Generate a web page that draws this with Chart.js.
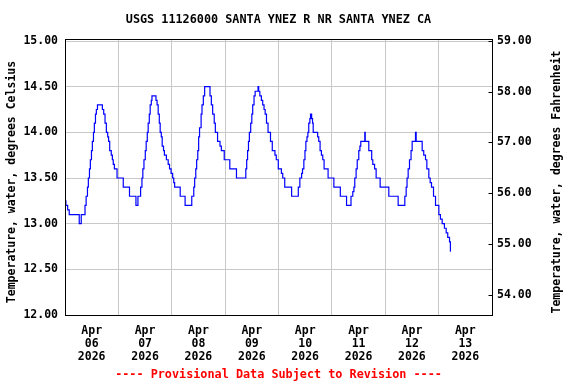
<!DOCTYPE html>
<html>
<head>
<meta charset="utf-8">
<script src="https://cdn.jsdelivr.net/npm/chart.js@4.4.1/dist/chart.umd.min.js"></script>
<style>
  html, body { margin: 0; padding: 0; background: #fff; }
</style>
</head>
<body>
<canvas id="tempChart" width="576" height="384"></canvas>
<script>
const chartTitle = "USGS 11126000 SANTA YNEZ R NR SANTA YNEZ CA";
const leftAxisTitle = "Temperature, water, degrees Celsius";
const rightAxisTitle = "Temperature, water, degrees Fahrenheit";
const footerText = "---- Provisional Data Subject to Revision ----";

// hours since Apr 06 2026 00:00 where the reading changes
const hours = [
  0, 0.4, 1.2, 1.9, 6.4, 7.3, 9.0, 9.5, 10.1, 10.5, 11.0, 11.4, 11.9, 12.3, 12.8, 13.2, 13.7, 14.1, 14.6,
  16.8, 17.4, 18.0, 18.6, 19.2, 19.6, 20.1, 20.8, 21.3, 21.7, 22.2, 23.4, 26.2, 29.0, 31.9, 32.8,
  34.0, 34.6, 35.0, 35.5, 36.1, 36.5, 37.0, 37.4, 37.9, 38.3, 38.8, 39.1,
  40.9, 41.4, 41.9, 42.4, 42.8, 43.3, 43.7, 44.3, 44.7, 45.6, 46.4, 47.0, 47.7, 48.4, 48.9, 49.3, 51.8, 54.0,
  57.0, 57.9, 58.3, 58.8, 59.2, 59.7, 60.1, 60.5, 61.2, 61.6, 62.2, 62.8,
  65.2, 65.8, 66.4, 67.1, 67.6, 68.6, 69.7, 70.3, 71.6, 74.1, 77.1,
  81.3, 81.7, 82.1, 82.5, 82.9, 83.5, 84.0, 84.4, 85.0, 85.5, 86.8,
  87.1, 87.6, 88.3, 88.9, 89.5, 90.0, 90.6, 91.3, 92.4, 93.2, 94.4, 95.0, 95.9, 97.3, 97.9, 98.8, 101.9,
  104.9, 105.6, 106.4, 106.8, 107.4, 107.9, 108.3, 108.8, 109.2, 109.6, 110.1, 110.4,
  110.9, 111.3, 111.6, 113.6, 114.1, 114.7, 115.3, 115.9, 116.5, 118.3, 120.9, 123.8, 126.6,
  128.6, 129.4, 129.9, 130.3, 130.9, 131.4, 132.1, 132.6, 133.0, 134.8, 135.0,
  136.6, 137.9, 138.4, 139.2, 139.9, 141.7, 145.6, 149.8,
  152.8, 153.4, 153.8, 154.3, 154.9, 155.6, 156.1, 157.6, 157.9,
  160.6, 161.3, 162.1, 162.7, 163.6, 164.2, 164.8, 165.7, 166.6, 168.1, 168.8, 169.6, 170.6,
  171.4, 172.1, 172.9, 173.3, 173.5
];
// water temperature, degrees Celsius
const tempC = [
  13.25, 13.2, 13.15, 13.1, 13.0, 13.1, 13.2, 13.3, 13.4, 13.5, 13.6, 13.7, 13.8, 13.9, 14.0, 14.1, 14.2, 14.25, 14.3,
  14.25, 14.2, 14.1, 14.0, 13.95, 13.9, 13.8, 13.75, 13.7, 13.65, 13.6, 13.5, 13.4, 13.3, 13.2, 13.3,
  13.4, 13.5, 13.6, 13.7, 13.8, 13.9, 14.0, 14.1, 14.2, 14.3, 14.35, 14.4,
  14.35, 14.3, 14.2, 14.1, 14.0, 13.95, 13.85, 13.8, 13.75, 13.7, 13.65, 13.6, 13.55, 13.5, 13.45, 13.4, 13.3, 13.2,
  13.3, 13.4, 13.5, 13.6, 13.7, 13.8, 13.95, 14.05, 14.2, 14.3, 14.4, 14.5,
  14.4, 14.3, 14.2, 14.1, 14.0, 13.9, 13.85, 13.8, 13.7, 13.6, 13.5,
  13.6, 13.7, 13.8, 13.9, 14.0, 14.1, 14.2, 14.3, 14.4, 14.45, 14.5,
  14.45, 14.4, 14.35, 14.3, 14.25, 14.2, 14.1, 14.0, 13.9, 13.8, 13.75, 13.7, 13.6, 13.55, 13.5, 13.4, 13.3,
  13.4, 13.5, 13.55, 13.6, 13.7, 13.8, 13.9, 13.95, 14.0, 14.1, 14.15, 14.2,
  14.15, 14.1, 14.0, 13.95, 13.9, 13.8, 13.75, 13.7, 13.6, 13.5, 13.4, 13.3, 13.2,
  13.3, 13.35, 13.4, 13.5, 13.6, 13.7, 13.8, 13.85, 13.9, 14.0, 13.9,
  13.8, 13.7, 13.65, 13.6, 13.5, 13.4, 13.3, 13.2,
  13.3, 13.4, 13.5, 13.6, 13.7, 13.8, 13.9, 14.0, 13.9,
  13.8, 13.75, 13.7, 13.6, 13.5, 13.45, 13.4, 13.3, 13.2, 13.1, 13.05, 13.0, 12.95,
  12.9, 12.85, 12.8, 12.7, 12.7
];

// x ticks every 12 hours: grid at midnight, label at noon
const xTickHours = [0, 12, 24, 36, 48, 60, 72, 84, 96, 108, 120, 132, 144, 156, 168, 180, 192];
const dayLabels = [
  ["Apr", "06", "2026"], ["Apr", "07", "2026"], ["Apr", "08", "2026"], ["Apr", "09", "2026"],
  ["Apr", "10", "2026"], ["Apr", "11", "2026"], ["Apr", "12", "2026"], ["Apr", "13", "2026"]
];
const celsiusTicks = [12, 12.5, 13, 13.5, 14, 14.5, 15];
const fahrenheitTicks = [54, 55, 56, 57, 58, 59];

// the plot frame sits a hair above 15.00
const cMin = 12;
const cMax = 15.022;

const monoFont = "'DejaVu Sans Mono', 'Liberation Mono', monospace";

// title, footer, axis titles, frame and the short ticks of the right axis
const framePlugin = {
  id: "frame",
  afterDraw(chart) {
    const ctx = chart.ctx;
    const a = chart.chartArea;
    ctx.save();
    ctx.strokeStyle = "#000";
    ctx.lineWidth = 1;
    const l = Math.round(a.left) + 0.5, t = Math.round(a.top) + 0.5;
    const r = Math.round(a.right) + 0.5, b = Math.round(a.bottom) + 0.5;
    ctx.strokeRect(l, t, r - l, b - t);

    const yF = chart.scales.yF;
    yF.ticks.forEach(tk => {
      const y = Math.round(yF.getPixelForValue(tk.value)) + 0.5;
      ctx.beginPath();
      ctx.moveTo(r - 4, y);
      ctx.lineTo(r, y);
      ctx.stroke();
    });

    const cx = (a.left + a.right) / 2;
    ctx.fillStyle = "#000";
    ctx.textAlign = "center";
    ctx.textBaseline = "middle";
    ctx.font = "bold 11.8px " + monoFont;
    ctx.fillText(chartTitle, cx, 20);

    ctx.font = "bold 11.5px " + monoFont;
    ctx.save();
    ctx.translate(12, 182);
    ctx.rotate(-Math.PI / 2);
    ctx.fillText(leftAxisTitle, 0, 0);
    ctx.restore();

    ctx.save();
    ctx.translate(557, 182);
    ctx.rotate(-Math.PI / 2);
    ctx.fillText(rightAxisTitle, 0, 0);
    ctx.restore();

    ctx.fillStyle = "#ff0000";
    ctx.font = "bold 11.8px " + monoFont;
    ctx.fillText(footerText, cx, 375);
    ctx.restore();
  }
};

const points = [];
for (let i = 0; i < hours.length; i++) {
  points.push({ x: hours[i], y: tempC[i] });
}

const tickFont = { family: monoFont, size: 11.5, weight: "bold", lineHeight: 1.13 };

new Chart(document.getElementById("tempChart"), {
  type: "line",
  data: {
    datasets: [{
      data: points,
      borderColor: "#0000ff",
      borderWidth: 1.2,
      pointRadius: 0,
      stepped: true,
      fill: false,
      yAxisID: "y"
    }]
  },
  options: {
    responsive: false,
    animation: false,
    devicePixelRatio: 1,
    layout: { padding: { left: 0, right: 0, top: 39, bottom: 0 } },
    plugins: { legend: { display: false }, tooltip: { enabled: false } },
    scales: {
      x: {
        type: "linear",
        min: 0,
        max: 192,
        afterBuildTicks: scale => { scale.ticks = xTickHours.map(v => ({ value: v })); },
        afterFit: scale => { scale.height = 69; },
        grid: {
          drawTicks: false,
          color: c => (c.tick && c.tick.value % 24 === 0) ? "#c8c8c8" : "rgba(0,0,0,0)"
        },
        border: { display: false },
        ticks: {
          autoSkip: false,
          maxRotation: 0,
          padding: 10,
          color: "#000",
          font: tickFont,
          callback: v => (v % 24 === 12) ? dayLabels[(v - 12) / 24] : ""
        }
      },
      y: {
        position: "left",
        min: cMin,
        max: cMax,
        afterBuildTicks: scale => { scale.ticks = celsiusTicks.map(v => ({ value: v })); },
        afterFit: scale => { scale.width = 65; },
        grid: { drawTicks: false, color: "#c8c8c8" },
        border: { display: false },
        ticks: {
          padding: 7,
          color: "#000",
          font: tickFont,
          callback: v => Number(v).toFixed(2)
        }
      },
      yF: {
        position: "right",
        min: cMin * 1.8 + 32,
        max: cMax * 1.8 + 32,
        afterBuildTicks: scale => { scale.ticks = fahrenheitTicks.map(v => ({ value: v })); },
        afterFit: scale => { scale.width = 84; },
        grid: { display: false, drawTicks: false },
        border: { display: false },
        ticks: {
          padding: 5,
          color: "#000",
          font: tickFont,
          callback: v => Number(v).toFixed(2)
        }
      }
    }
  },
  plugins: [framePlugin]
});
</script>
</body>
</html>
